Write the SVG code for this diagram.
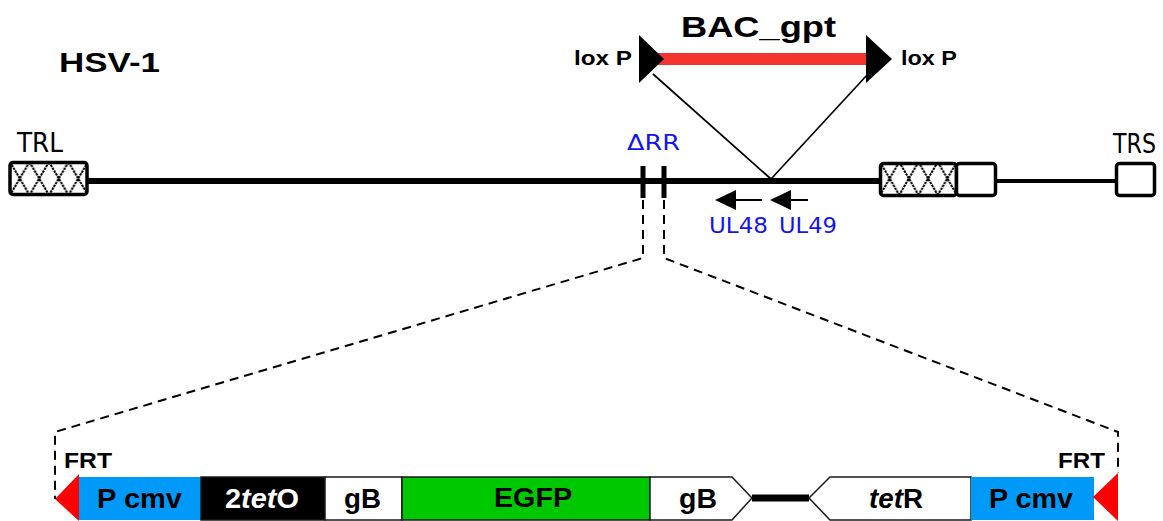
<svg xmlns="http://www.w3.org/2000/svg" width="1163" height="521" viewBox="0 0 1163 521">
<style>
.lbl{font-family:"DejaVu Sans","Liberation Sans",sans-serif;}
.b{font-family:"Liberation Sans",Arial,sans-serif;font-weight:bold;}
.blue{fill:#1414f0;}
.box{stroke:#000;stroke-width:3.5;}
.dash{fill:none;stroke:#000;stroke-width:2;stroke-dasharray:9 6;}
.seg{stroke:#1a1a1a;stroke-width:1.5;}
</style>
<defs>
<pattern id="hatchL" patternUnits="userSpaceOnUse" x="10" y="162" width="19.5" height="33">
<rect width="19.5" height="33" fill="#fff"/>
<path d="M0,0 L19.5,33 M19.5,0 L0,33" stroke="#000" stroke-width="2" stroke-dasharray="2.5 0.8"/>
</pattern>
<pattern id="hatchR" patternUnits="userSpaceOnUse" x="880" y="162" width="19.25" height="33">
<rect width="19.25" height="33" fill="#fff"/>
<path d="M0,0 L19.25,33 M19.25,0 L0,33" stroke="#000" stroke-width="2" stroke-dasharray="2.5 0.8"/>
</pattern>
</defs>
<rect width="1163" height="521" fill="#fff"/>

<g id="connectors">
<line x1="86" y1="181" x2="881" y2="181" stroke="#000" stroke-width="6"/>
<line x1="995" y1="181" x2="1117" y2="181" stroke="#000" stroke-width="4"/>
<line x1="653" y1="74" x2="771" y2="179" stroke="#000" stroke-width="1.7"/>
<line x1="868" y1="74" x2="771" y2="179" stroke="#000" stroke-width="1.7"/>
<polyline class="dash" points="643,200 643,258 55,432 55,499"/>
<polyline class="dash" points="664,200 664,258 1118,432 1118,473"/>
<rect x="752" y="494.5" width="57" height="7" fill="#000"/>
</g>

<g id="hsv1-label"><text class="b" x="59" y="72" font-size="27" textLength="101" lengthAdjust="spacingAndGlyphs">HSV-1</text></g>

<g id="TRL">
<text class="lbl" x="17" y="152" font-size="27" textLength="46" lengthAdjust="spacingAndGlyphs">TRL</text>
<rect class="box" x="10" y="162.5" width="77" height="32" rx="3" fill="url(#hatchL)"/>
</g>

<g id="TRS">
<text class="lbl" x="1113" y="153" font-size="27" textLength="43" lengthAdjust="spacingAndGlyphs">TRS</text>
<rect class="box" x="1116.5" y="163.5" width="38" height="32" rx="3" fill="#fff"/>
</g>

<g id="repeat-right">
<rect class="box" x="880.5" y="163.5" width="76" height="32" rx="3" fill="url(#hatchR)"/>
<rect class="box" x="956.5" y="163.5" width="39" height="32" rx="3" fill="#fff"/>
</g>

<g id="dRR">
<text class="lbl blue" x="627" y="150" font-size="21" textLength="53" lengthAdjust="spacingAndGlyphs">ΔRR</text>
<rect x="640.5" y="166" width="5" height="32" fill="#000"/>
<rect x="661.5" y="166" width="5" height="32" fill="#000"/>
</g>

<g id="BAC_gpt">
<text class="b" x="681" y="37" font-size="30" textLength="155" lengthAdjust="spacingAndGlyphs">BAC_gpt</text>
<rect x="657" y="53" width="211" height="12" fill="#f4352f"/>
</g>

<g id="loxP-left">
<text class="b" x="574" y="65" font-size="21" textLength="58" lengthAdjust="spacingAndGlyphs">lox P</text>
<polygon points="639,35 639,83 664,59" fill="#000"/>
</g>

<g id="loxP-right">
<polygon points="866,35 866,83 892,59" fill="#000"/>
<text class="b" x="901" y="65" font-size="21" textLength="56" lengthAdjust="spacingAndGlyphs">lox P</text>
</g>

<g id="UL48">
<line x1="730" y1="200" x2="762" y2="200" stroke="#000" stroke-width="2"/>
<polygon points="715,200 736,190 736,210" fill="#000"/>
<text class="lbl blue" x="709" y="233" font-size="22" textLength="59" lengthAdjust="spacingAndGlyphs">UL48</text>
</g>

<g id="UL49">
<line x1="785" y1="200" x2="808" y2="200" stroke="#000" stroke-width="2"/>
<polygon points="770,200 791,190 791,210" fill="#000"/>
<text class="lbl blue" x="779" y="233" font-size="22" textLength="58" lengthAdjust="spacingAndGlyphs">UL49</text>
</g>

<g id="FRT-left">
<text class="b" x="64" y="468" font-size="22" textLength="48" lengthAdjust="spacingAndGlyphs">FRT</text>
<polygon points="79,474 79,521 55,499" fill="#f00"/>
</g>

<g id="Pcmv-left">
<rect x="79" y="477" width="122" height="43" fill="#0099f7"/>
<text class="b" x="97" y="508" font-size="27" textLength="85" lengthAdjust="spacingAndGlyphs">P cmv</text>
</g>

<g id="tetO">
<rect x="201" y="477" width="124" height="43" fill="#000" class="seg"/>
<text class="b" x="225" y="508" font-size="27" fill="#fff" textLength="74" lengthAdjust="spacingAndGlyphs">2<tspan font-style="italic">tet</tspan>O</text>
</g>

<g id="gB-left">
<rect x="325" y="477" width="77" height="43" fill="#fff" class="seg"/>
<text class="b" x="344" y="508" font-size="27" textLength="37" lengthAdjust="spacingAndGlyphs">gB</text>
</g>

<g id="EGFP">
<rect x="402" y="477" width="248" height="43" fill="#00c800" class="seg"/>
<text class="b" x="494" y="507" font-size="27" textLength="78" lengthAdjust="spacingAndGlyphs">EGFP</text>
</g>

<g id="gB-right">
<polygon points="650,477 732,477 752,498 732,520 650,520" fill="#fff" class="seg"/>
<text class="b" x="679" y="508" font-size="27" textLength="38" lengthAdjust="spacingAndGlyphs">gB</text>
</g>

<g id="tetR">
<polygon points="971,477 830,477 809,498 830,520 971,520" fill="#fff" class="seg"/>
<text class="b" x="869" y="508" font-size="27" textLength="54" lengthAdjust="spacingAndGlyphs"><tspan font-style="italic">tet</tspan>R</text>
</g>

<g id="Pcmv-right">
<rect x="971" y="477" width="123" height="43" fill="#0099f7"/>
<text class="b" x="989" y="508" font-size="27" textLength="84" lengthAdjust="spacingAndGlyphs">P cmv</text>
</g>

<g id="FRT-right">
<text class="b" x="1058" y="468" font-size="22" textLength="47" lengthAdjust="spacingAndGlyphs">FRT</text>
<polygon points="1118,473 1118,521 1093,497" fill="#f00"/>
</g>
</svg>
